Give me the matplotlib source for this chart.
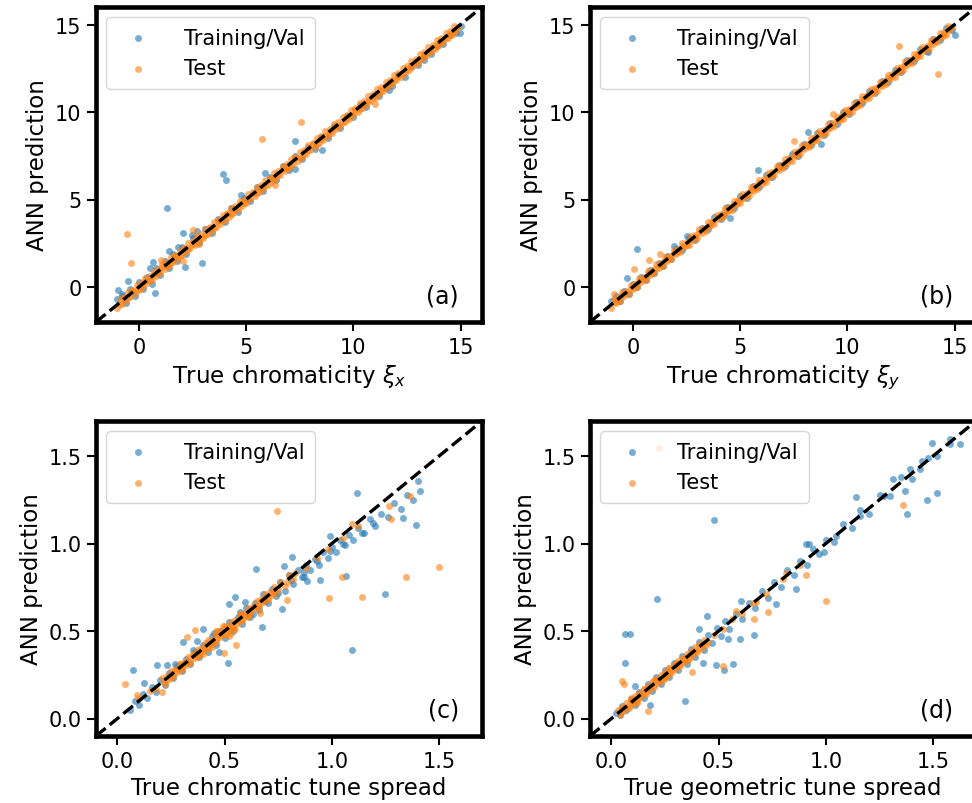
import matplotlib.pyplot as plt
import numpy as np

# (x = true value, y = ANN prediction) pairs

# panel (a): chromaticity xi_x
a_train = [(-1.0, -0.7), (-0.8, -0.4), (-0.6, -0.9), (-0.4, -0.1), (-0.2, -0.5), (0.0, 0.3),
           (0.2, -0.1), (0.4, 0.6), (0.6, 0.2), (0.8, 1.1), (1.0, 0.7), (1.2, 1.5), (1.4, 1.1),
           (1.6, 1.9), (1.8, 1.5), (2.0, 2.3), (2.2, 1.9), (2.5, 2.8), (2.8, 2.5), (3.1, 3.3),
           (3.4, 3.1), (3.7, 3.9), (4.0, 3.7), (4.3, 4.5), (4.6, 4.3), (4.9, 5.1), (5.2, 4.9),
           (5.5, 5.7), (5.8, 5.5), (6.1, 6.3), (6.4, 6.1), (6.7, 6.9), (7.0, 6.7), (7.3, 7.5),
           (7.6, 7.3), (7.9, 8.0), (8.2, 7.9), (8.5, 8.6), (8.8, 8.5), (9.1, 9.2), (9.4, 9.1),
           (9.7, 9.8), (10.0, 9.7), (10.3, 10.4), (10.6, 10.3), (10.9, 10.9), (11.2, 10.9),
           (11.5, 11.4), (11.8, 11.5), (12.1, 12.1), (12.4, 12.0), (12.7, 12.6), (13.0, 12.7),
           (13.3, 13.2), (13.6, 13.3), (13.9, 13.8), (14.2, 13.9), (14.5, 14.4), (14.8, 14.5),
           (15.0, 14.9),
           (7.29, 8.33), (8.52, 7.85), (7.29, 6.74), (3.92, 6.45), (4.07, 6.11), (4.74, 5.25),
           (5.90, 6.51), (1.31, 4.50), (2.04, 3.10), (2.47, 2.97), (2.72, 3.20), (1.42, 2.05),
           (1.81, 2.28), (0.65, 1.44), (0.50, 1.09), (2.15, 1.13), (2.96, 1.38), (0.73, -0.34),
           (-0.51, 0.36), (-0.98, -0.19), (-0.80, -0.50), (11.68, 11.25), (13.30, 12.97),
           (14.99, 14.50)]
a_test_mid = [(-0.9, -0.95), (-0.7, -0.6), (-0.5, -0.55), (-0.3, -0.2), (-0.1, -0.15), (0.1, 0.05),
              (0.3, 0.35), (0.5, 0.4), (0.7, 0.75), (0.9, 0.8), (1.1, 1.15), (1.3, 1.2), (1.5, 1.45),
              (1.7, 1.75), (1.9, 1.8), (2.1, 2.15), (2.3, 2.2), (2.5, 2.45), (2.7, 2.8), (2.9, 2.85),
              (3.1, 3.0), (3.3, 3.35), (3.5, 3.4), (3.7, 3.75), (3.9, 3.8), (4.1, 4.15), (4.3, 4.2),
              (4.5, 4.45), (4.7, 4.75), (4.9, 4.8), (5.1, 5.05), (5.3, 5.35), (5.5, 5.4), (5.7, 5.65),
              (5.9, 5.85), (6.1, 6.15), (6.3, 6.2), (6.5, 6.45), (6.7, 6.75), (6.9, 6.8), (7.1, 7.0),
              (7.3, 7.35), (7.5, 7.4), (7.7, 7.65), (7.9, 7.85), (8.1, 8.15), (8.3, 8.2), (8.5, 8.45),
              (8.7, 8.65), (8.9, 8.85), (9.1, 9.15), (9.3, 9.2), (9.5, 9.45), (9.7, 9.65), (9.9, 9.85),
              (10.1, 10.1), (10.3, 10.2), (10.5, 10.45), (10.7, 10.65), (10.9, 10.85), (11.1, 11.05),
              (11.3, 11.25), (11.5, 11.45), (11.7, 11.65), (11.9, 11.85), (12.1, 12.05), (12.3, 12.25),
              (12.5, 12.45), (12.7, 12.7), (12.9, 12.8), (13.1, 13.05), (13.3, 13.25), (13.5, 13.45),
              (13.7, 13.65), (13.9, 13.85), (14.1, 14.05), (14.3, 14.25), (14.5, 14.45), (14.7, 14.6),
              (14.9, 14.85)]
a_test_hi = [(-0.9, -0.7), (-0.7, -0.55), (-0.5, -0.3), (-0.3, -0.15), (-0.1, 0.1), (0.1, 0.25),
             (0.3, 0.5), (0.5, 0.65), (0.7, 0.9), (0.9, 1.05), (1.1, 1.3), (1.3, 1.45), (1.5, 1.7),
             (1.7, 1.85), (1.9, 2.1), (2.1, 2.25), (2.3, 2.5), (2.5, 2.65), (2.7, 2.9), (2.9, 3.05),
             (3.1, 3.3), (3.3, 3.45), (3.5, 3.7), (3.7, 3.85), (3.9, 4.1), (4.1, 4.25), (4.3, 4.5),
             (4.5, 4.65), (4.7, 4.9), (4.9, 5.05), (5.1, 5.3), (5.3, 5.45), (5.5, 5.7), (5.7, 5.85),
             (5.9, 6.1), (6.1, 6.25), (6.3, 6.5), (6.5, 6.65), (6.7, 6.9), (6.9, 7.05), (7.1, 7.3),
             (7.3, 7.45), (7.5, 7.7), (7.7, 7.85), (7.9, 8.1), (8.1, 8.25), (8.3, 8.5), (8.5, 8.65),
             (8.7, 8.9), (8.9, 9.05), (9.1, 9.3), (9.3, 9.45), (9.5, 9.7), (9.7, 9.85), (9.9, 10.1),
             (10.1, 10.25), (10.3, 10.5), (10.5, 10.65), (10.7, 10.9), (10.9, 11.05), (11.1, 11.3),
             (11.3, 11.45), (11.5, 11.7), (11.7, 11.85), (11.9, 12.1), (12.1, 12.25), (12.3, 12.5),
             (12.5, 12.65), (12.7, 12.9), (12.9, 13.05), (13.1, 13.3), (13.3, 13.45), (13.5, 13.7),
             (13.7, 13.85), (13.9, 14.1), (14.1, 14.25), (14.3, 14.5), (14.5, 14.65), (14.7, 14.9)]
a_test_lo = [(-1.0, -1.2), (-0.8, -0.95), (-0.6, -0.8), (-0.4, -0.55), (-0.2, -0.4), (0.0, -0.15),
             (0.2, 0.0), (0.4, 0.25), (0.6, 0.4), (0.8, 0.65), (1.0, 0.8), (1.2, 1.05), (1.4, 1.2),
             (1.6, 1.45), (1.8, 1.6), (2.0, 1.85), (2.2, 2.0), (2.4, 2.25), (2.6, 2.4), (2.8, 2.65),
             (3.0, 2.8), (3.2, 3.05), (3.4, 3.2), (3.6, 3.45), (3.8, 3.6), (4.0, 3.85), (4.2, 4.0),
             (4.4, 4.25), (4.6, 4.4), (4.8, 4.65), (5.0, 4.8), (5.2, 5.05), (5.4, 5.2), (5.6, 5.45),
             (5.8, 5.6), (6.0, 5.85), (6.2, 6.0), (6.4, 6.25), (6.6, 6.4), (6.8, 6.65), (7.0, 6.8),
             (7.2, 7.05), (7.4, 7.2), (7.6, 7.45), (7.8, 7.6), (8.0, 7.85), (8.2, 8.0), (8.4, 8.25),
             (8.6, 8.4), (8.8, 8.65), (9.0, 8.8), (9.2, 9.05), (9.4, 9.2), (9.6, 9.45), (9.8, 9.6),
             (10.0, 9.85), (10.2, 10.0), (10.4, 10.25), (10.6, 10.4), (10.8, 10.65), (11.0, 10.8),
             (11.2, 11.05), (11.4, 11.2), (11.6, 11.45), (11.8, 11.6), (12.0, 11.85), (12.2, 12.0),
             (12.4, 12.25), (12.6, 12.4), (12.8, 12.65), (13.0, 12.8), (13.2, 13.05), (13.4, 13.2),
             (13.6, 13.45), (13.8, 13.6), (14.0, 13.85), (14.2, 14.0), (14.4, 14.25), (14.6, 14.4),
             (14.8, 14.65)]
a_test_off = [(11.02, 10.48), (-0.56, 3.01), (-0.35, 1.38), (5.74, 8.47), (7.55, 9.41),
              (6.36, 5.82), (2.50, 3.27), (1.04, 1.53), (2.04, 1.50), (2.81, 2.43)]

# panel (b): chromaticity xi_y
b_train = [(-1.0, -0.8), (-0.8, -0.5), (-0.6, -0.8), (-0.4, -0.2), (-0.2, -0.4), (0.0, 0.2),
           (0.2, 0.0), (0.4, 0.6), (0.6, 0.4), (0.8, 1.0), (1.0, 0.8), (1.2, 1.4), (1.4, 1.2),
           (1.6, 1.8), (1.8, 1.6), (2.0, 2.2), (2.3, 2.1), (2.6, 2.8), (2.9, 2.7), (3.2, 3.4),
           (3.5, 3.3), (3.8, 4.0), (4.1, 3.9), (4.4, 4.6), (4.7, 4.5), (5.0, 5.2), (5.3, 5.1),
           (5.6, 5.8), (5.9, 5.7), (6.2, 6.4), (6.5, 6.3), (6.8, 7.0), (7.1, 6.9), (7.4, 7.6),
           (7.7, 7.5), (8.0, 8.2), (8.3, 8.1), (8.6, 8.8), (8.9, 8.7), (9.2, 9.4), (9.5, 9.3),
           (9.8, 10.0), (10.1, 9.9), (10.4, 10.6), (10.7, 10.5), (11.0, 11.2), (11.3, 11.1),
           (11.6, 11.8), (11.9, 11.7), (12.2, 12.4), (12.5, 12.3), (12.8, 13.0), (13.1, 12.9),
           (13.4, 13.6), (13.7, 13.5), (14.0, 14.2), (14.3, 14.1), (14.6, 14.8), (14.9, 14.7),
           (0.17, 2.15), (-0.26, 0.52), (5.83, 6.70), (8.15, 8.85), (8.77, 8.18), (4.52, 3.97),
           (4.27, 4.10), (15.02, 14.41), (13.78, 13.45), (1.90, 2.34), (2.52, 2.91)]
b_test_mid = [(-0.9, -0.85), (-0.7, -0.8), (-0.5, -0.45), (-0.3, -0.35), (-0.1, -0.05), (0.1, 0.0),
              (0.3, 0.35), (0.5, 0.45), (0.7, 0.75), (0.9, 0.85), (1.1, 1.1), (1.3, 1.25), (1.5, 1.55),
              (1.7, 1.65), (1.9, 1.95), (2.1, 2.05), (2.3, 2.35), (2.5, 2.4), (2.7, 2.75), (2.9, 2.85),
              (3.1, 3.15), (3.3, 3.25), (3.5, 3.5), (3.7, 3.65), (3.9, 3.95), (4.1, 4.05), (4.3, 4.35),
              (4.5, 4.4), (4.7, 4.75), (4.9, 4.85), (5.1, 5.1), (5.3, 5.25), (5.5, 5.55), (5.7, 5.65),
              (5.9, 5.95), (6.1, 6.05), (6.3, 6.3), (6.5, 6.45), (6.7, 6.75), (6.9, 6.85), (7.1, 7.1),
              (7.3, 7.25), (7.5, 7.55), (7.7, 7.65), (7.9, 7.95), (8.1, 8.05), (8.3, 8.3), (8.5, 8.45),
              (8.7, 8.75), (8.9, 8.85), (9.1, 9.1), (9.3, 9.25), (9.5, 9.55), (9.7, 9.65), (9.9, 9.95),
              (10.1, 10.05), (10.3, 10.3), (10.5, 10.45), (10.7, 10.75), (10.9, 10.85), (11.1, 11.1),
              (11.3, 11.25), (11.5, 11.55), (11.7, 11.65), (11.9, 11.95), (12.1, 12.05), (12.3, 12.3),
              (12.5, 12.45), (12.7, 12.75), (12.9, 12.85), (13.1, 13.1), (13.3, 13.25), (13.5, 13.55),
              (13.7, 13.65), (13.9, 13.95), (14.1, 14.05), (14.3, 14.3), (14.5, 14.45), (14.7, 14.75),
              (14.9, 14.85)]
b_test_hi = [(-0.9, -0.7), (-0.7, -0.6), (-0.5, -0.3), (-0.3, -0.2), (-0.1, 0.1), (0.1, 0.2),
             (0.3, 0.5), (0.5, 0.6), (0.7, 0.9), (0.9, 1.0), (1.1, 1.3), (1.3, 1.4), (1.5, 1.7),
             (1.7, 1.8), (1.9, 2.1), (2.1, 2.2), (2.3, 2.5), (2.5, 2.6), (2.7, 2.9), (2.9, 3.0),
             (3.1, 3.3), (3.3, 3.4), (3.5, 3.7), (3.7, 3.8), (3.9, 4.1), (4.1, 4.2), (4.3, 4.5),
             (4.5, 4.6), (4.7, 4.9), (4.9, 5.0), (5.1, 5.3), (5.3, 5.4), (5.5, 5.7), (5.7, 5.8),
             (5.9, 6.1), (6.1, 6.2), (6.3, 6.5), (6.5, 6.6), (6.7, 6.9), (6.9, 7.0), (7.1, 7.3),
             (7.3, 7.4), (7.5, 7.7), (7.7, 7.8), (7.9, 8.1), (8.1, 8.2), (8.3, 8.5), (8.5, 8.6),
             (8.7, 8.9), (8.9, 9.0), (9.1, 9.3), (9.3, 9.4), (9.5, 9.7), (9.7, 9.8), (9.9, 10.1),
             (10.1, 10.2), (10.3, 10.5), (10.5, 10.6), (10.7, 10.9), (10.9, 11.0), (11.1, 11.3),
             (11.3, 11.4), (11.5, 11.7), (11.7, 11.8), (11.9, 12.1), (12.1, 12.2), (12.3, 12.5),
             (12.5, 12.6), (12.7, 12.9), (12.9, 13.0), (13.1, 13.3), (13.3, 13.4), (13.5, 13.7),
             (13.7, 13.8), (13.9, 14.1), (14.1, 14.2), (14.3, 14.5), (14.5, 14.6), (14.7, 14.9)]
b_test_lo = [(-1.0, -1.2), (-0.8, -0.9), (-0.6, -0.8), (-0.4, -0.5), (-0.2, -0.4), (0.0, -0.1),
             (0.2, 0.0), (0.4, 0.3), (0.6, 0.4), (0.8, 0.7), (1.0, 0.8), (1.2, 1.1), (1.4, 1.2),
             (1.6, 1.5), (1.8, 1.6), (2.0, 1.9), (2.2, 2.0), (2.4, 2.3), (2.6, 2.4), (2.8, 2.7),
             (3.0, 2.8), (3.2, 3.1), (3.4, 3.2), (3.6, 3.5), (3.8, 3.6), (4.0, 3.9), (4.2, 4.0),
             (4.4, 4.3), (4.6, 4.4), (4.8, 4.7), (5.0, 4.8), (5.2, 5.1), (5.4, 5.2), (5.6, 5.5),
             (5.8, 5.6), (6.0, 5.9), (6.2, 6.0), (6.4, 6.3), (6.6, 6.4), (6.8, 6.7), (7.0, 6.8),
             (7.2, 7.1), (7.4, 7.2), (7.6, 7.5), (7.8, 7.6), (8.0, 7.9), (8.2, 8.0), (8.4, 8.3),
             (8.6, 8.4), (8.8, 8.7), (9.0, 8.8), (9.2, 9.1), (9.4, 9.2), (9.6, 9.5), (9.8, 9.6),
             (10.0, 9.9), (10.2, 10.0), (10.4, 10.3), (10.6, 10.4), (10.8, 10.7), (11.0, 10.8),
             (11.2, 11.1), (11.4, 11.2), (11.6, 11.5), (11.8, 11.6), (12.0, 11.9), (12.2, 12.0),
             (12.4, 12.3), (12.6, 12.4), (12.8, 12.7), (13.0, 12.8), (13.2, 13.1), (13.4, 13.2),
             (13.6, 13.5), (13.8, 13.6), (14.0, 13.9), (14.2, 14.0), (14.4, 14.3), (14.6, 14.4),
             (14.8, 14.7)]
b_test_off = [(0.05, 1.05), (0.74, 1.57), (1.28, 1.86), (7.50, 8.37), (9.31, 9.87),
              (12.39, 13.77), (14.25, 12.16), (-0.88, -0.40)]

# panel (c): chromatic tune spread
c_train = [(0.06, 0.05), (0.08, 0.10), (0.10, 0.08), (0.12, 0.14), (0.14, 0.12), (0.16, 0.18),
           (0.18, 0.15), (0.20, 0.22), (0.22, 0.19), (0.24, 0.26), (0.26, 0.23), (0.28, 0.30),
           (0.30, 0.27), (0.32, 0.34), (0.34, 0.31), (0.36, 0.38), (0.38, 0.35), (0.40, 0.42),
           (0.42, 0.38), (0.44, 0.47), (0.46, 0.42), (0.48, 0.50), (0.50, 0.46), (0.52, 0.55),
           (0.54, 0.50), (0.56, 0.58), (0.58, 0.54), (0.60, 0.63), (0.62, 0.58), (0.64, 0.66),
           (0.66, 0.62), (0.68, 0.71), (0.70, 0.66), (0.72, 0.74), (0.74, 0.70), (0.76, 0.78),
           (0.78, 0.73), (0.80, 0.82), (0.82, 0.77), (0.84, 0.85), (0.86, 0.81), (0.88, 0.88),
           (0.90, 0.85), (0.92, 0.91), (0.94, 0.88), (0.96, 0.95), (0.98, 0.92), (1.00, 0.98),
           (1.02, 0.95), (1.04, 1.02), (1.06, 0.99), (1.08, 1.05), (1.10, 1.02), (1.12, 1.09),
           (1.15, 1.06), (1.18, 1.14), (1.20, 1.10), (1.23, 1.17), (1.26, 1.15), (1.29, 1.23),
           (1.32, 1.20), (1.35, 1.28), (1.38, 1.25),
           (0.45, 0.49), (0.57, 0.61), (0.63, 0.60), (0.69, 0.67), (0.75, 0.72), (0.81, 0.79),
           (0.87, 0.84), (0.93, 0.90), (0.99, 0.96), (1.05, 1.00), (0.35, 0.39), (0.27, 0.31),
           (1.116, 1.288), (1.41, 1.30), (1.40, 1.36), (1.39, 1.105), (1.333, 1.143), (1.19, 1.12),
           (1.14, 1.06), (1.067, 0.817), (0.946, 0.792), (1.248, 0.712), (1.096, 0.389),
           (0.646, 0.855), (0.814, 0.925), (0.775, 0.874), (0.767, 0.623), (0.674, 0.522),
           (0.55, 0.693), (0.519, 0.655), (0.597, 0.665), (0.398, 0.509), (0.369, 0.443),
           (0.307, 0.437), (0.515, 0.319), (0.473, 0.38), (0.233, 0.304), (0.186, 0.304),
           (0.074, 0.275), (0.124, 0.205), (0.868, 0.807), (0.884, 0.788), (0.992, 1.045)]
c_test_mid = [(0.22, 0.21), (0.24, 0.24), (0.26, 0.25), (0.28, 0.28), (0.30, 0.29), (0.32, 0.32),
              (0.34, 0.33), (0.36, 0.36), (0.38, 0.37), (0.40, 0.40), (0.42, 0.41), (0.44, 0.44),
              (0.46, 0.45), (0.48, 0.48), (0.50, 0.49), (0.52, 0.52), (0.54, 0.53), (0.56, 0.56),
              (0.58, 0.57), (0.60, 0.60), (0.62, 0.61), (0.64, 0.64), (0.66, 0.65), (0.68, 0.68),
              (0.70, 0.69), (0.72, 0.72), (0.75, 0.74), (0.79, 0.78), (0.83, 0.83), (0.88, 0.86),
              (0.93, 0.92), (0.98, 0.97), (1.05, 1.03), (1.12, 1.10), (0.10, 0.12), (0.15, 0.16),
              (0.18, 0.17), (0.47, 0.50), (0.50, 0.53), (0.53, 0.49), (0.44, 0.41), (0.57, 0.60),
              (0.61, 0.58), (0.35, 0.37), (0.29, 0.31), (0.46, 0.50), (0.52, 0.47), (0.49, 0.53),
              (0.55, 0.51), (0.40, 0.37), (0.42, 0.45)]
c_test_hi = [(0.21, 0.23), (0.23, 0.245), (0.25, 0.27), (0.27, 0.285), (0.29, 0.31), (0.31, 0.325),
             (0.33, 0.35), (0.35, 0.365), (0.37, 0.39), (0.39, 0.405), (0.41, 0.43), (0.43, 0.445),
             (0.45, 0.47), (0.47, 0.485), (0.49, 0.51), (0.51, 0.525), (0.53, 0.55), (0.55, 0.565),
             (0.57, 0.59), (0.59, 0.605), (0.61, 0.63), (0.63, 0.645), (0.65, 0.67), (0.67, 0.685),
             (0.69, 0.71), (0.71, 0.725), (0.73, 0.75), (0.76, 0.78), (0.80, 0.82)]
c_test_lo = [(0.22, 0.20), (0.24, 0.225), (0.26, 0.24), (0.28, 0.265), (0.30, 0.28), (0.32, 0.305),
             (0.34, 0.32), (0.36, 0.345), (0.38, 0.36), (0.40, 0.385), (0.42, 0.40), (0.44, 0.425),
             (0.46, 0.44), (0.48, 0.465), (0.50, 0.48), (0.52, 0.505), (0.54, 0.52), (0.56, 0.545),
             (0.58, 0.56), (0.60, 0.585), (0.62, 0.60), (0.64, 0.625), (0.66, 0.64), (0.68, 0.665),
             (0.70, 0.68), (0.72, 0.705), (0.74, 0.72), (0.78, 0.76), (0.82, 0.80)]
c_test_off = [(0.744, 1.183), (1.364, 1.273), (1.264, 1.212), (1.274, 1.14), (1.50, 0.864),
              (1.346, 0.811), (1.047, 0.811), (0.988, 0.689), (1.14, 0.695), (0.791, 0.678),
              (1.093, 1.111), (0.034, 0.196), (0.093, 0.133), (0.326, 0.465), (0.361, 0.503),
              (0.499, 0.376), (0.555, 0.418), (0.667, 0.604), (0.209, 0.152)]

# panel (d): geometric tune spread
d_train = [(0.02, 0.03), (0.04, 0.02), (0.05, 0.07), (0.07, 0.05), (0.09, 0.11), (0.11, 0.08),
           (0.13, 0.15), (0.15, 0.12), (0.17, 0.20), (0.19, 0.16), (0.21, 0.24), (0.23, 0.20),
           (0.25, 0.28), (0.27, 0.24), (0.29, 0.32), (0.31, 0.28), (0.33, 0.36), (0.35, 0.31),
           (0.37, 0.40), (0.39, 0.35), (0.41, 0.44), (0.43, 0.39), (0.45, 0.48), (0.47, 0.43),
           (0.49, 0.52), (0.51, 0.47), (0.53, 0.56), (0.55, 0.51), (0.58, 0.60), (0.61, 0.57),
           (0.64, 0.66), (0.67, 0.63), (0.70, 0.73), (0.73, 0.69), (0.76, 0.78), (0.79, 0.75),
           (0.82, 0.85), (0.85, 0.82), (0.88, 0.90), (0.91, 0.88), (0.94, 0.97), (0.97, 0.94),
           (1.00, 1.02), (1.04, 1.01), (1.08, 1.11), (1.12, 1.09), (1.16, 1.19), (1.20, 1.17),
           (1.25, 1.28), (1.30, 1.27), (1.35, 1.38), (1.40, 1.37), (1.45, 1.47), (1.52, 1.50),
           (1.58, 1.60),
           (1.497, 1.572), (1.579, 1.566), (1.625, 1.57), (1.478, 1.49), (1.517, 1.287),
           (1.471, 1.247), (1.378, 1.168), (1.367, 1.30), (1.44, 1.424), (1.393, 1.428),
           (1.311, 1.367), (1.269, 1.272), (1.141, 1.266), (1.161, 1.158), (0.48, 1.133),
           (0.212, 0.683), (0.062, 0.484), (0.085, 0.484), (0.065, 0.317), (1.045, 1.044),
           (0.921, 0.997), (0.906, 0.997), (0.99, 0.949), (0.859, 0.74), (0.769, 0.655),
           (0.446, 0.585), (0.407, 0.509), (0.488, 0.304), (0.565, 0.309), (0.526, 0.275),
           (0.344, 0.10), (0.108, 0.184), (0.663, 0.478), (0.604, 0.674), (0.599, 0.456),
           (0.542, 0.456), (0.429, 0.319), (0.181, 0.076)]
d_test_mid = [(0.04, 0.04), (0.06, 0.06), (0.08, 0.07), (0.10, 0.10), (0.12, 0.11), (0.14, 0.14),
              (0.16, 0.15), (0.18, 0.18), (0.20, 0.19), (0.22, 0.22), (0.24, 0.23), (0.26, 0.26),
              (0.28, 0.27), (0.30, 0.30), (0.32, 0.31), (0.34, 0.34), (0.36, 0.35), (0.38, 0.38),
              (0.40, 0.39), (0.42, 0.42), (0.45, 0.44), (0.48, 0.48), (0.52, 0.51), (0.56, 0.57),
              (0.61, 0.60), (0.66, 0.66), (0.72, 0.71), (0.80, 0.80), (0.88, 0.88), (0.15, 0.17),
              (0.20, 0.22), (0.25, 0.23), (0.30, 0.32), (0.35, 0.33), (0.09, 0.12), (0.12, 0.09),
              (0.27, 0.29)]
d_test_hi = [(0.03, 0.05), (0.05, 0.065), (0.07, 0.09), (0.09, 0.105), (0.11, 0.13), (0.13, 0.145),
             (0.15, 0.17), (0.17, 0.185), (0.19, 0.21), (0.21, 0.225), (0.23, 0.25), (0.25, 0.265),
             (0.27, 0.29), (0.29, 0.305), (0.31, 0.33), (0.33, 0.345), (0.35, 0.37), (0.37, 0.385),
             (0.39, 0.41), (0.41, 0.425), (0.43, 0.45)]
d_test_lo = [(0.04, 0.02), (0.06, 0.045), (0.08, 0.06), (0.10, 0.085), (0.12, 0.10), (0.14, 0.125),
             (0.16, 0.14), (0.18, 0.165), (0.20, 0.18), (0.22, 0.205), (0.24, 0.22), (0.26, 0.245),
             (0.28, 0.26), (0.30, 0.285), (0.32, 0.30), (0.34, 0.325), (0.36, 0.34), (0.38, 0.365),
             (0.40, 0.38), (0.42, 0.405), (0.44, 0.42)]
d_test_off = [(1.358, 1.219), (1.002, 0.67), (0.906, 0.822), (0.813, 0.83), (0.673, 0.665),
              (0.728, 0.611), (0.666, 0.566), (0.58, 0.617), (0.522, 0.298), (0.376, 0.266),
              (0.051, 0.213), (0.057, 0.2), (0.17, 0.042), (0.224, 1.545)]

a_test = a_test_mid + a_test_hi + a_test_lo + a_test_off
b_test = b_test_mid + b_test_hi + b_test_lo + b_test_off
c_test = c_test_mid + c_test_hi + c_test_lo + c_test_off
d_test = d_test_mid + d_test_hi + d_test_lo + d_test_off

xlabels = [r"True chromaticity $\xi_x$", r"True chromaticity $\xi_y$",
           "True chromatic tune spread", "True geometric tune spread"]
tags = ["(a)", "(b)", "(c)", "(d)"]
chroma_ticks = [0, 5, 10, 15]
spread_ticks = [0.0, 0.5, 1.0, 1.5]

fig = plt.figure(figsize=(9.72, 8.04), dpi=100)


def add_px_axes(left, top, w=386, h=315):
    # place axes in pixel units, measured from the top-left corner
    return fig.add_axes([left / 972, 1 - (top + h) / 804, w / 972, h / 804])


panels = [
    (add_px_axes(96, 8), a_train, a_test, (-2, 16), chroma_ticks),
    (add_px_axes(590, 8), b_train, b_test, (-2, 16), chroma_ticks),
    (add_px_axes(96, 422), c_train, c_test, (-0.1, 1.7), spread_ticks),
    (add_px_axes(590, 422), d_train, d_test, (-0.1, 1.7), spread_ticks),
]

for (ax, train, test, lims, ticks), xlab, tag in zip(panels, xlabels, tags):
    tr = np.array(train).T
    te = np.array(test).T
    ax.scatter(tr[0], tr[1], s=25, color="#1f77b4", alpha=0.6, linewidths=0,
               label="Training/Val", zorder=2)
    ax.scatter(te[0], te[1], s=25, color="#ff7f0e", alpha=0.6, linewidths=0,
               label="Test", zorder=2)
    ax.plot(lims, lims, "k--", lw=2.4, zorder=3)
    ax.set_xlim(lims)
    ax.set_ylim(lims)
    ax.set_xticks(ticks)
    ax.set_yticks(ticks)
    ax.tick_params(labelsize=15, length=6.5, width=1.5, pad=4)
    for sp in ax.spines.values():
        sp.set_linewidth(3.3)
    ax.set_xlabel(xlab, fontsize=16.5)
    ax.set_ylabel("ANN prediction", fontsize=16.5)
    ax.legend(loc="upper left", fontsize=15, borderpad=0.5, handletextpad=1.2,
              framealpha=0.8)
    ax.text(0.94, 0.045, tag, transform=ax.transAxes, ha="right", va="bottom",
            fontsize=17)

fig.savefig("out.png", dpi=100)
plt.close(fig)
